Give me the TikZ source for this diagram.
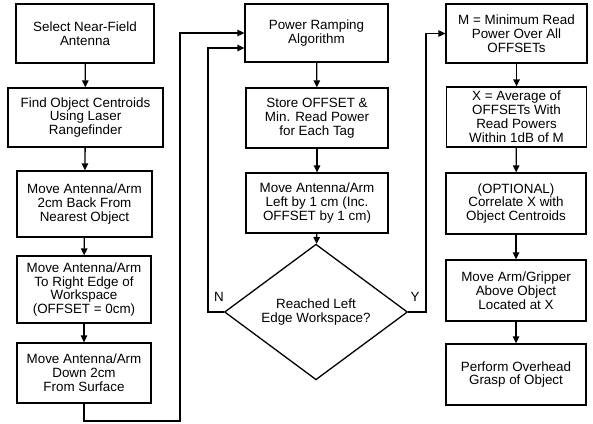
\documentclass[tikz,border=0pt]{standalone}
\usepackage{fontspec}
\setmainfont{Liberation Sans}
\usetikzlibrary{arrows.meta,shapes.geometric}
\begin{document}
\begin{tikzpicture}[x=1pt,y=-1pt,
  every node/.style={font=\fontsize{13.4}{13.9}\selectfont},
  box/.style={draw,line width=1.3pt,align=center,inner sep=0pt},
  dia/.style={draw,line width=1.3pt,diamond,align=center,inner sep=0pt,minimum width=183pt,minimum height=103pt},
  arr/.style={line width=1.3pt,-{Triangle[length=7pt,width=6.5pt]}},
  ln/.style={line width=1.3pt}]
\useasboundingbox (0,0) rectangle (593,423);
% column 1
\node[box,minimum width=138pt,minimum height=59pt] (a1) at (85,33.5) {Select Near-Field\\Antenna};
\node[box,minimum width=155pt,minimum height=59pt] (a2) at (85.5,117.5) {Find Object Centroids\\Using Laser\\Rangefinder};
\node[box,minimum width=135pt,minimum height=66pt] (a3) at (84.5,204) {Move Antenna/Arm\\2cm Back From\\Nearest Object};
\node[box,minimum width=134pt,minimum height=67pt] (a4) at (84,289.5) {Move Antenna/Arm\\To Right Edge of\\Workspace\\(OFFSET = 0cm)};
\node[box,minimum width=134pt,minimum height=60pt] (a5) at (84,373) {Move Antenna/Arm\\Down 2cm\\From Surface};
% column 2
\node[box,minimum width=143pt,minimum height=58pt] (b1) at (316.5,33) {Power Ramping\\Algorithm};
\node[box,minimum width=142pt,minimum height=60pt] (b2) at (317,118) {Store OFFSET \&\\Min. Read Power\\for Each Tag};
\node[box,minimum width=142pt,minimum height=60pt] (b3) at (317,203) {Move Antenna/Arm\\Left by 1 cm (Inc.\\OFFSET by 1 cm)};
\node[dia] (d) at (316,312) {Reached Left\\Edge Workspace?};
% column 3
\node[box,minimum width=141pt,minimum height=59pt] (c1) at (516.5,33.5) {M = Minimum Read\\Power Over All\\OFFSETs};
\node[box,minimum width=140pt,minimum height=60pt] (c2) at (516.5,117) {X = Average of\\OFFSETs With\\Read Powers\\Within 1dB of M};
\node[box,minimum width=140pt,minimum height=61pt] (c3) at (516,203.5) {(OPTIONAL)\\Correlate X with\\Object Centroids};
\node[box,minimum width=140pt,minimum height=61pt] (c4) at (516,290.5) {Move Arm/Gripper\\Above Object\\Located at X};
\node[box,minimum width=140pt,minimum height=61pt] (c5) at (516,374.5) {Perform Overhead\\Grasp of Object};
% arrows
\draw[arr] (a1) -- (a2);
\draw[arr] (a2) -- (a3);
\draw[arr] (a3) -- (a4);
\draw[arr] (a4) -- (a5);
\coordinate (lb) at (85,421);
\coordinate (lr) at (180,421);
\draw[arr] (a5.south) -- (a5.south |- lb) -- (lr) |- (b1.west);
\draw[arr] (b1) -- (b2);
\draw[arr] (b2) -- (b3);
\draw[arr] (b3) -- (d);
\coordinate (nl) at (208,312);
\coordinate (yr) at (426,312);
\draw[arr] (d.west) -- (nl) |- ([yshift=-15pt]b1.west);
\draw[arr] (d.east) -- (yr) |- (c1.west);
\node (n) at (219,297) {N};
\node (y) at (415,297) {Y};
\draw[arr] (c1) -- (c2);
\draw[arr] (c2) -- (c3);
\draw[arr] (c3) -- (c4);
\draw[arr] (c4) -- (c5);
\end{tikzpicture}
\end{document}
